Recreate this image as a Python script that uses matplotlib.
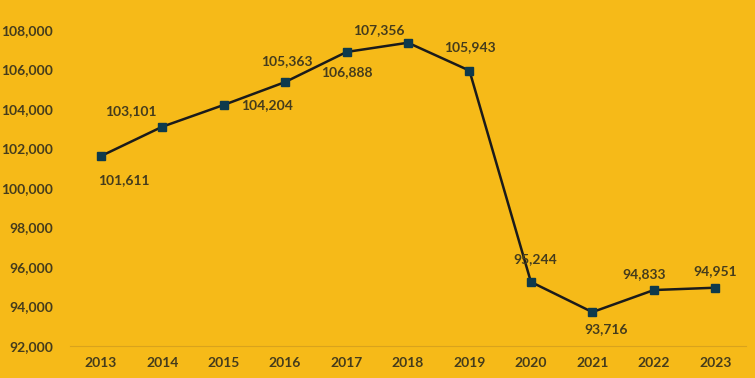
import matplotlib
matplotlib.use('Agg')
import matplotlib.pyplot as plt

years = ['2013', '2014', '2015', '2016', '2017', '2018', '2019', '2020', '2021', '2022', '2023']
values = [101611, 103101, 104204, 105363, 106888, 107356, 105943, 95244, 93716, 94833, 94951]
# label offsets in pixels (dx, dy)
offsets = [(23, -24), (-31, 16), (43, 0), (2, 21), (0, -20), (-29, 13),
           (0, 24), (4, 23), (14, -17), (-10, 16), (0, 17)]

bg = '#F6BA18'
txt = '#453c1c'

plt.rcParams['font.family'] = ['Lato', 'DejaVu Sans']

fig = plt.figure(figsize=(7.55, 3.78), dpi=100, facecolor=bg)
ax1 = fig.add_axes([70/755, 32/378, 676/755, 316/378])
ax1.set_facecolor(bg)

x = list(range(len(years)))
ax1.plot(x, values, color='#1b1b1b', linestyle='solid', linewidth=1.8,
         marker='s', markersize=6, markerfacecolor='#0e3a4c', markeredgecolor='#0e3a4c')

for xi, v, (dx, dy) in zip(x, values, offsets):
    ax1.annotate(f'{v:,}', (xi, v), xytext=(dx, dy), textcoords='offset pixels',
                 ha='center', va='center', fontsize=10, fontweight='bold', color=txt)

ax1.set_xlim(-0.5, len(years) - 0.5)
ax1.set_ylim(92000, 108000)
ax1.set_yticks(range(92000, 108001, 2000))
ax1.set_yticklabels([f'{t:,}' for t in range(92000, 108001, 2000)])
ax1.set_xticks(x)
ax1.set_xticklabels(years)

for s in ['top', 'right', 'left']:
    ax1.spines[s].set_visible(False)
ax1.spines['bottom'].set_color('#d9a31c')
ax1.spines['bottom'].set_linewidth(0.8)
ax1.tick_params(axis='both', length=0, labelsize=10, labelcolor=txt)
ax1.tick_params(axis='y', pad=12)
ax1.tick_params(axis='x', pad=8)
for lab in ax1.get_xticklabels() + ax1.get_yticklabels():
    lab.set_fontweight('bold')

fig.savefig('out.png', dpi=100, facecolor=bg)
